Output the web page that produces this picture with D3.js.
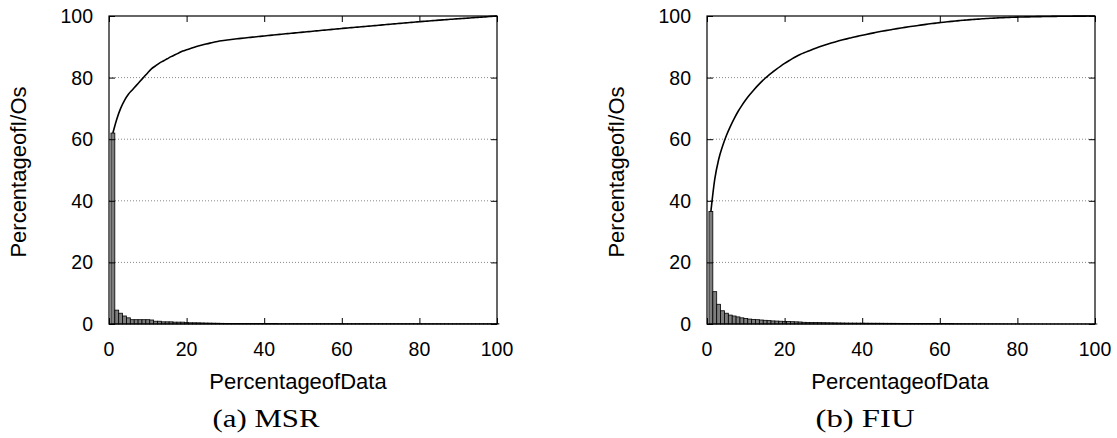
<!DOCTYPE html>
<html>
<head>
<meta charset="utf-8">
<script src="https://cdn.jsdelivr.net/npm/d3@7"></script>
<style>
  html, body { margin: 0; padding: 0; background: #fff; }
  svg { display: block; }
  .tick-label { font-family: "Liberation Sans", Arial, sans-serif; font-size: 19.5px; fill: #000; }
  .axis-title { font-family: "Liberation Sans", Arial, sans-serif; font-size: 22px; fill: #000; }
  .caption { font-family: "Liberation Serif", "DejaVu Serif", serif; font-size: 26px; fill: #000; }
</style>
</head>
<body>
<svg id="chart" width="1117" height="438"></svg>
<script>
// Share of I/O requests per 1% bucket of data (buckets 1..100), most accessed first
const binIndex = d3.range(1, 101);

const msrShare = [
  62, 4.5, 3.5, 2.6, 2.0, 1.4, 1.4, 1.4, 1.4, 1.4,
  1.3, 0.9, 0.9, 0.7, 0.7, 0.7, 0.6, 0.6, 0.6, 0.45,
  0.4, 0.4, 0.38, 0.35, 0.32, 0.3, 0.27, 0.25, 0.22, 0.2,
  0.17, 0.15, 0.14, 0.14, 0.13, 0.13, 0.13, 0.13, 0.13, 0.13,
  0.13, 0.13, 0.13, 0.12, 0.12, 0.12, 0.12, 0.12, 0.12, 0.12,
  0.12, 0.12, 0.12, 0.12, 0.12, 0.12, 0.12, 0.12, 0.12, 0.12,
  0.11, 0.11, 0.11, 0.11, 0.11, 0.11, 0.11, 0.11, 0.11, 0.11,
  0.11, 0.11, 0.11, 0.11, 0.11, 0.11, 0.11, 0.11, 0.11, 0.11,
  0.1, 0.1, 0.1, 0.1, 0.1, 0.09, 0.09, 0.09, 0.09, 0.09,
  0.09, 0.09, 0.09, 0.09, 0.09, 0.09, 0.09, 0.09, 0.09, 0.09
];

const fiuShare = [
  36.5, 10.5, 6.4, 4.3, 3.5, 2.9, 2.6, 2.3, 2.0, 1.8,
  1.6, 1.5, 1.4, 1.3, 1.2, 1.1, 1.0, 0.95, 0.9, 0.85,
  0.8, 0.75, 0.7, 0.65, 0.55, 0.52, 0.5, 0.47, 0.45, 0.43,
  0.41, 0.39, 0.37, 0.35, 0.33, 0.31, 0.3, 0.3, 0.29, 0.28,
  0.27, 0.26, 0.25, 0.25, 0.24, 0.23, 0.22, 0.22, 0.21, 0.2,
  0.2, 0.19, 0.19, 0.18, 0.18, 0.17, 0.17, 0.16, 0.16, 0.15,
  0.14, 0.13, 0.13, 0.12, 0.12, 0.11, 0.11, 0.1, 0.1, 0.09,
  0.09, 0.08, 0.08, 0.07, 0.07, 0.06, 0.06, 0.05, 0.05, 0.04,
  0.02, 0.03, 0.03, 0.03, 0.03, 0.02, 0.02, 0.02, 0.02, 0.02,
  0.02, 0.01, 0.01, 0.01, 0.01, 0.01, 0.01, 0.01, 0.01, 0.01
];

const xTicks = [0, 20, 40, 60, 80, 100];
const yTicks = [0, 20, 40, 60, 80, 100];
const gridValues = [20, 40, 60, 80];
const xTitle = "PercentageofData";
const yTitle = "PercentageofI/Os";

const panels = [
  { share: msrShare, caption: "(a) MSR", left: 109, right: 497,
    captionX: 266, captionW: 107, xTitleX: 298, yTitleX: 26 },
  { share: fiuShare, caption: "(b) FIU", left: 707, right: 1095,
    captionX: 865, captionW: 99, xTitleX: 900, yTitleX: 624 }
];

const svg = d3.select("#chart");
const plotTop = 16, plotBottom = 324, tickLen = 6;

panels.forEach(p => {
  const x = d3.scaleLinear().domain([0, 100]).range([p.left, p.right]);
  const y = d3.scaleLinear().domain([0, 100]).range([plotBottom, plotTop]);
  const g = svg.append("g");

  // dotted horizontal grid
  g.selectAll("line.grid").data(gridValues).join("line")
    .attr("class", "grid")
    .attr("x1", p.left).attr("x2", p.right)
    .attr("y1", d => y(d)).attr("y2", d => y(d))
    .attr("stroke", "#888").attr("stroke-width", 1)
    .attr("stroke-dasharray", "1,2");

  // per-bucket bars
  g.selectAll("rect.bar").data(binIndex).join("rect")
    .attr("class", "bar")
    .attr("x", i => x(i - 0.5))
    .attr("width", x(1) - x(0))
    .attr("y", i => y(p.share[i - 1]))
    .attr("height", i => y(0) - y(p.share[i - 1]))
    .attr("fill", "#7d7d7d")
    .attr("stroke", "#000").attr("stroke-width", 0.8);

  // cumulative share line
  const cum = Array.from(d3.cumsum(p.share));
  g.append("path")
    .datum(binIndex)
    .attr("fill", "none")
    .attr("stroke", "#000").attr("stroke-width", 1.6)
    .attr("d", d3.line()
      .x(i => x(i))
      .y(i => y(Math.min(100, cum[i - 1])))
      .curve(d3.curveMonotoneX));

  // inward ticks on all four sides
  const bottomAxis = d3.axisBottom(x).tickValues(xTicks).tickSize(-tickLen).tickFormat("");
  const topAxis = d3.axisTop(x).tickValues(xTicks).tickSize(-tickLen).tickFormat("");
  const leftAxis = d3.axisLeft(y).tickValues(yTicks).tickSize(-tickLen).tickFormat("");
  const rightAxis = d3.axisRight(y).tickValues(yTicks).tickSize(-tickLen).tickFormat("");
  [[bottomAxis, `translate(0,${plotBottom})`], [topAxis, `translate(0,${plotTop})`],
   [leftAxis, `translate(${p.left},0)`], [rightAxis, `translate(${p.right},0)`]].forEach(([ax, tr]) => {
    const a = g.append("g").attr("transform", tr).call(ax);
    a.select(".domain").remove();
    a.selectAll(".tick line").attr("stroke", "#000").attr("stroke-width", 1);
  });

  // frame
  g.append("rect")
    .attr("x", p.left).attr("y", plotTop)
    .attr("width", p.right - p.left).attr("height", plotBottom - plotTop)
    .attr("fill", "none").attr("stroke", "#000").attr("stroke-width", 1.2);

  // tick labels
  g.selectAll("text.xl").data(xTicks).join("text")
    .attr("class", "tick-label xl")
    .attr("x", d => x(d)).attr("y", plotBottom + 32)
    .attr("text-anchor", "middle")
    .text(d => d);
  g.selectAll("text.yl").data(yTicks).join("text")
    .attr("class", "tick-label yl")
    .attr("x", p.left - 16).attr("y", d => y(d) + 7)
    .attr("text-anchor", "end")
    .text(d => d);

  // axis titles
  g.append("text").attr("class", "axis-title")
    .attr("x", p.xTitleX).attr("y", plotBottom + 65)
    .attr("text-anchor", "middle").text(xTitle);
  g.append("text").attr("class", "axis-title")
    .attr("transform", `translate(${p.yTitleX},${(plotTop + plotBottom) / 2 + 2}) rotate(-90)`)
    .attr("text-anchor", "middle").text(yTitle);

  // sub-figure caption
  g.append("text").attr("class", "caption")
    .attr("x", p.captionX).attr("y", 427)
    .attr("text-anchor", "middle")
    .attr("textLength", p.captionW).attr("lengthAdjust", "spacingAndGlyphs")
    .text(p.caption);
});
</script>
</body>
</html>
